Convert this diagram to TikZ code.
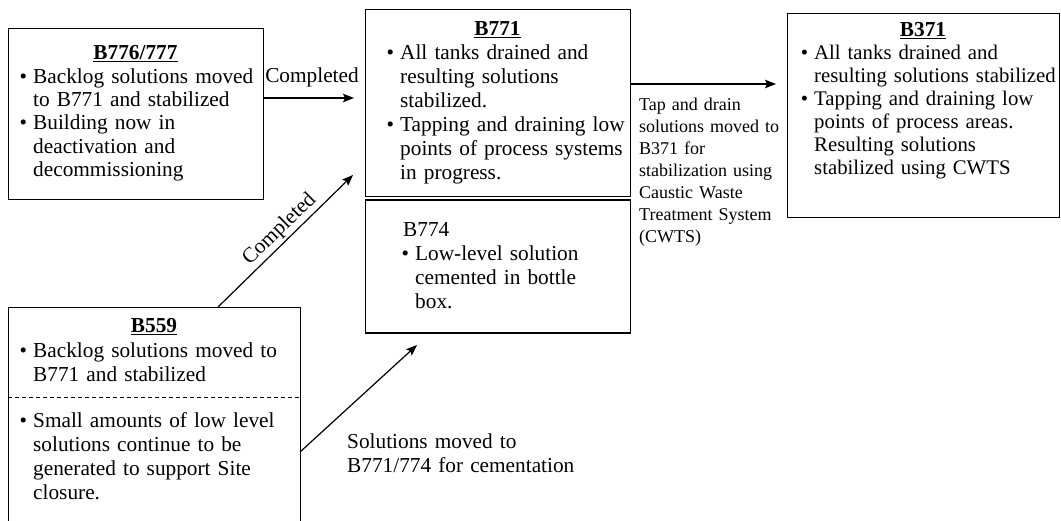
\documentclass[tikz,border=0pt]{standalone}
\usepackage{fontspec}
\setmainfont{Liberation Serif}
\usetikzlibrary{arrows.meta}
\newcommand{\mybul}{\leavevmode\llap{\textbullet\hspace{6pt}}}
\begin{document}
\begin{tikzpicture}[x=1pt,y=-1pt,
  box/.style={draw, line width=1.2pt, inner sep=0pt, anchor=north west},
  body/.style={inner sep=0pt, anchor=base west, text width=300pt, align=left, font=\fontsize{21.3}{#1}\selectfont},
  ttl/.style={inner sep=0pt, anchor=base, font=\fontsize{21.3}{24}\selectfont\bfseries},
  plain/.style={inner sep=0pt, font=\fontsize{21.3}{24}\selectfont},
  lbl/.style={inner sep=0pt, anchor=base west, text width=200pt, align=left, font=\fontsize{18}{#1}\selectfont},
  arr/.style={line width=1.2pt, -{Stealth[length=11pt,width=8.5pt,inset=2pt]}},
]
\useasboundingbox (0,0) rectangle (1061,521);
\clip (0,0) rectangle (1061,521);

% boxes
\node[box, minimum width=255pt, minimum height=171pt] (b776) at (8,28) {};
\node[box, minimum width=265pt, minimum height=187pt] (b771) at (365,9) {};
\node[box, minimum width=265pt, minimum height=133pt] (b774) at (365,199.5) {};
\node[box, minimum width=272pt, minimum height=204pt] (b371) at (787,13) {};
\node[box, minimum width=292pt, minimum height=240pt] (b559) at (8,307) {};

% B776/777
\node[ttl] (t776) at (135.5,60) {\underline{B776/777}};
\node[body=23.2] (x776) at (33,83.5) {\mybul Backlog solutions moved\\to B771 and stabilized\\\mybul Building now in\\deactivation and\\decommissioning};

% B771
\node[ttl] (t771) at (497.5,36) {\underline{B771}};
\node[body=24] (x771) at (400,60) {\mybul All tanks drained and\\resulting solutions\\stabilized.\\\mybul Tapping and draining low\\points of process systems\\in progress.};

% B774
\node[body=24] (x774) at (403,237) {B774\\\hspace*{12pt}\mybul Low-level solution\\\hspace*{12pt}cemented in bottle\\\hspace*{12pt}box.};

% B371
\node[ttl] (t371) at (923,37) {\underline{B371}};
\node[body=23, font=\fontsize{20.8}{23}\selectfont] (x371) at (814,60) {\mybul All tanks drained and\\resulting solutions stabilized\\\mybul Tapping and draining low\\points of process areas.\\Resulting solutions\\stabilized using CWTS};

% B559
\node[ttl] (t559) at (154,333) {\underline{B559}};
\node[body=24] (x559a) at (33,358) {\mybul Backlog solutions moved to\\B771 and stabilized};
\coordinate (dl) at (0,398);
\draw[line width=1pt, dash pattern=on 4pt off 3pt] (b559.west |- dl) -- (b559.east |- dl);
\node[body=24] (x559b) at (33,428) {\mybul Small amounts of low level\\solutions continue to be\\generated to support Site\\closure.};

% connectors
\coordinate (h1) at (0,98);
\node[plain, anchor=base] (c1) at (312,83) {Completed};
\draw[arr, shorten >=11pt] (b776.east |- h1) -- (b771.west |- h1);

\coordinate (d1) at (218,307);
\coordinate (d2) at (353,175);
\draw[arr] (d1) -- node[plain, sloped, above, inner sep=2pt, pos=0.52] (c2) {Completed} (d2);

\coordinate (h2) at (0,84);
\draw[arr, shorten >=11pt] (b771.east |- h2) -- (b371.west |- h2);
\node[lbl=22] (tap) at (639,111) {Tap and drain\\solutions moved to\\B371 for\\stabilization using\\Caustic Waste\\Treatment System\\(CWTS)};

\coordinate (s1) at (300,452);
\coordinate (s2) at (417,345);
\draw[arr] (s1) -- (s2);
\node[body=23.5] (sol) at (347,449) {Solutions moved to\\B771/774 for cementation};
\end{tikzpicture}
\end{document}
